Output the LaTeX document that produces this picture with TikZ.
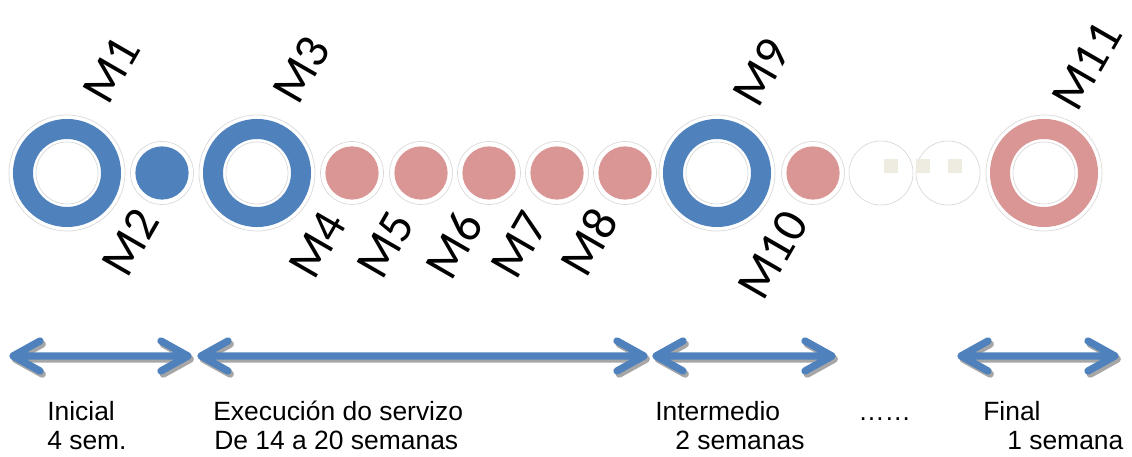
\documentclass[tikz,border=0pt]{standalone}
\usepackage{fontspec}
\setmainfont{Liberation Sans}
\newfontfamily\labelfont{Carlito}
\usetikzlibrary{positioning}
\definecolor{msblue}{HTML}{4F81BD}
\definecolor{mspink}{HTML}{D99694}
\definecolor{msbeige}{HTML}{EEECE1}
\definecolor{halogray}{HTML}{D9D9D9}
\definecolor{shadowgray}{HTML}{A6A6A6}

\begin{document}
\begin{tikzpicture}[x=0.025cm, y=-0.025cm]

\tikzstyle{ring} = [circle, inner sep=0pt, minimum size=2.2cm, line width=0.5cm]
\tikzstyle{dot} = [circle, inner sep=0pt, minimum size=1.33cm]
\tikzstyle{halo} = [draw=halogray, line width=0.5pt]
\tikzstyle{square} = [rectangle, inner sep=0pt, minimum size=0.33cm, fill=msbeige]
\tikzstyle{mlabel} = [rotate=60, inner sep=0pt, font=\labelfont\fontsize{35}{35}\selectfont]
\tikzstyle{phase} = [anchor=base west, inner sep=0pt, font=\fontsize{18.8}{22}\selectfont]
\tikzstyle{span} = [line width=5.2pt, draw=msblue, line cap=round, line join=round]
\tikzstyle{spanshadow} = [span, draw=shadowgray, transform canvas={shift={(1.6pt,-2.2pt)}}]

\useasboundingbox (0,0) rectangle (1132,457);

%% ----------------
%% -- MILESTONES --
%% ----------------

% big rings
\node (m1) [ring, draw=msblue] at (67,173) {};
\node (m3) [ring, draw=msblue] at (257,173) {};
\node (m9) [ring, draw=msblue] at (717,173) {};
\node (m11) [ring, draw=mspink] at (1044,173) {};
\foreach \m in {m1,m3,m9,m11}
  \draw [halo] (\m) circle (58) (\m) circle (31);

% small dots
\node (m2) [dot, fill=msblue] at (162,173) {};
\node (m4) [dot, fill=mspink] at (352,173) {};
\node (m5) [dot, fill=mspink] at (421,173) {};
\node (m6) [dot, fill=mspink] at (489,173) {};
\node (m7) [dot, fill=mspink] at (557,173) {};
\node (m8) [dot, fill=mspink] at (625,173) {};
\node (m10) [dot, fill=mspink] at (813,173) {};
\foreach \m in {m2,m4,m5,m6,m7,m8,m10}
  \draw [halo] (\m) circle (31.5);

% empty slots
\node (gap_a) [dot, halo, minimum size=1.6cm] at (881,173) {};
\node (gap_b) [dot, halo, minimum size=1.6cm] at (948,173) {};
\node (sq1) [square] at (891,166) {};
\node (sq2) [square] at (923,166) {};
\node (sq3) [square] at (955,166) {};

% labels
\node (m1_lbl) [mlabel] at (112,70) {M1};
\node (m3_lbl) [mlabel] at (302,70) {M3};
\node (m9_lbl) [mlabel] at (761,72) {M9};
\node (m11_lbl) [mlabel] at (1087,66) {M11};
\node (m2_lbl) [mlabel] at (130,242) {M2};
\node (m4_lbl) [mlabel] at (318,245) {M4};
\node (m5_lbl) [mlabel] at (386,245) {M5};
\node (m6_lbl) [mlabel] at (454,245) {M6};
\node (m7_lbl) [mlabel] at (520,245) {M7};
\node (m8_lbl) [mlabel] at (589,242) {M8};
\node (m10_lbl) [mlabel] at (773,255) {M10};

%% ------------
%% -- PHASES --
%% ------------

\coordinate (a0) at (13,356);
\coordinate (a1) at (188,356);
\coordinate (b0) at (201,356);
\coordinate (b1) at (644,356);
\coordinate (c0) at (656,356);
\coordinate (c1) at (832,356);
\coordinate (d0) at (961,356);
\coordinate (d1) at (1115,356);

% shadows first, then the double arrows (shaft + two chevrons)
\foreach \s/\e in {a0/a1,b0/b1,c0/c1,d0/d1}
  \draw [spanshadow] (\s) -- (\e)
    (\s) ++(27,-15) -- (\s) -- ++(27,15)
    (\e) ++(-27,-15) -- (\e) -- ++(-27,15);
\foreach \s/\e in {a0/a1,b0/b1,c0/c1,d0/d1}
  \draw [span] (\s) -- (\e)
    (\s) ++(27,-15) -- (\s) -- ++(27,15)
    (\e) ++(-27,-15) -- (\e) -- ++(-27,15);

\node (inicial) [phase] at (47,421) {Inicial};
\node (inicial_len) [phase] at (47,450) {4 sem.};
\node (execucion) [phase] at (213,421) {Execución do servizo};
\node (execucion_len) [phase] at (214,450) {De 14 a 20 semanas};
\node (intermedio) [phase] at (655,421) {Intermedio};
\node (intermedio_len) [phase] at (675,450) {2 semanas};
\node (more) [phase] at (858,421) {……};
\node (final) [phase] at (983,421) {Final};
\node (final_len) [phase] at (1007,450) {1 semana};

\end{tikzpicture}
\end{document}
